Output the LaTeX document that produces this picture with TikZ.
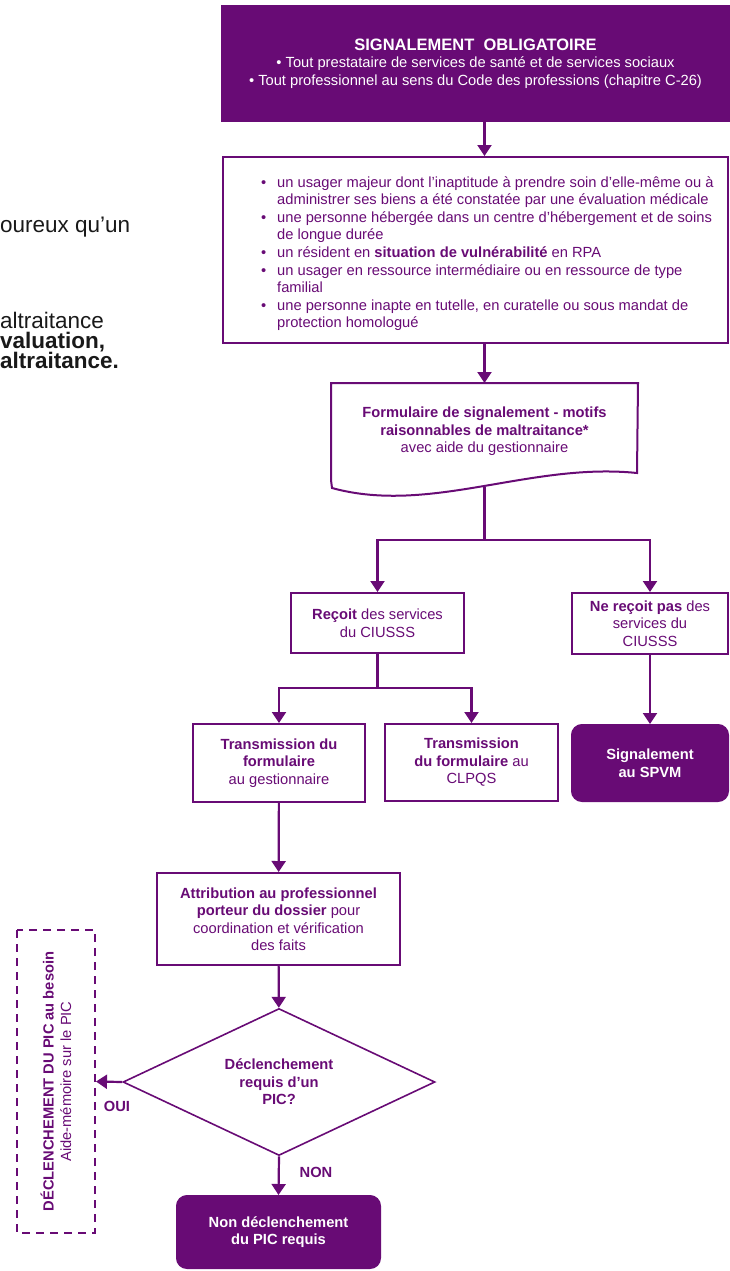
\documentclass[tikz,border=0pt]{standalone}
\usepackage{fontspec}
\setmainfont{Liberation Sans}
\usetikzlibrary{arrows.meta,shapes.geometric}
\definecolor{pur}{RGB}{104,11,117}
\newcommand{\bitem}{\makebox[16pt][l]{\textbullet}}
\newcommand{\bcont}{\hspace*{16pt}}
\begin{document}
\begin{tikzpicture}[x=1pt,y=-1pt,
    box/.style={rectangle,draw=pur,line width=2pt,text=pur,align=center,inner sep=0pt,font=\fontsize{14.7}{17.5}\selectfont},
    fillbox/.style={box,fill=pur,text=white,rounded corners=10pt},
    arr/.style={draw=pur,line width=2.2pt,-{Triangle[length=11pt,width=14pt]}},
    lab/.style={text=pur,font=\fontsize{14.7}{16}\selectfont\bfseries},
    side/.style={text=black!90,anchor=base west,inner sep=0pt,font=\fontsize{22.5}{20}\selectfont}]
    \useasboundingbox (0,0) rectangle (729,1271);

    % texte coupé à gauche
    \node[side] at (0,232) (s1) {oureux qu’un};
    \node[side] at (0,328) (s2) {altraitance};
    \node[side,font=\fontsize{22.5}{20}\selectfont\bfseries] at (0,348) (s3) {valuation,};
    \node[side,font=\fontsize{22.5}{20}\selectfont\bfseries] at (0,368) (s4) {altraitance.};

    \node[fillbox,rounded corners=0pt,minimum width=507pt,minimum height=115pt] at (475.5,63.5) (top)
        {{\fontsize{16.5}{19}\selectfont\bfseries SIGNALEMENT\ \ OBLIGATOIRE}\\
         \textbullet\ Tout prestataire de services de santé et de services sociaux\\
         \textbullet\ Tout professionnel au sens du Code des professions (chapitre C-26)};

    \node[box,minimum width=505pt,minimum height=186pt] at (475,250) (list) {};
    \node[text=pur,align=left,anchor=north west,inner sep=0pt,font=\fontsize{14.7}{17.6}\selectfont] at (261,176) (listtxt)
        {\bitem un usager majeur dont l’inaptitude à prendre soin d’elle-même ou à\\
         \bcont administrer ses biens a été constatée par une évaluation médicale\\
         \bitem une personne hébergée dans un centre d’hébergement et de soins\\
         \bcont de longue durée\\
         \bitem un résident en \textbf{situation de vulnérabilité} en RPA\\
         \bitem un usager en ressource intermédiaire ou en ressource de type\\
         \bcont familial\\
         \bitem une personne inapte en tutelle, en curatelle ou sous mandat de\\
         \bcont protection homologué};

    \node[box,draw=none,minimum width=305pt,minimum height=95pt] at (484.5,431.5) (form)
        {\textbf{Formulaire de signalement - motifs}\\
         \textbf{raisonnables de maltraitance*}\\
         avec aide du gestionnaire};
    \draw[pur,line width=2pt] (form.south west) -- (form.north west) -- (form.north east) -- (637,473)
        .. controls (530,462) and (430,515) .. (332,488) -- cycle;
    \coordinate (formbot) at (484.5,487);

    \node[box,minimum width=173pt,minimum height=60pt] at (377.5,623) (recoit)
        {\textbf{Reçoit} des services\\ du CIUSSS};
    \node[box,minimum width=156pt,minimum height=61pt] at (650,623.5) (nerecoit)
        {\textbf{Ne reçoit pas} des\\ services du\\ CIUSSS};
    \node[box,minimum width=172pt,minimum height=78pt] at (279,763) (trans1)
        {\textbf{Transmission du}\\ \textbf{formulaire}\\ au gestionnaire};
    \node[box,minimum width=173pt,minimum height=77pt] at (471.5,762.5) (trans2)
        {\textbf{Transmission}\\ \textbf{du formulaire} au\\ CLPQS};
    \node[fillbox,minimum width=156pt,minimum height=76pt] at (650,763) (spvm)
        {\textbf{Signalement}\\ \textbf{au SPVM}};
    \node[box,minimum width=243pt,minimum height=92pt] at (278.5,919) (attr)
        {\textbf{Attribution au professionnel}\\ \textbf{porteur du dossier} pour\\ coordination et vérification\\ des faits};
    \node[box,line width=1.6pt,shape=diamond,shape aspect=2.12,minimum width=312pt,minimum height=147pt] at (279,1082) (dia)
        {\textbf{Déclenchement}\\ \textbf{requis d’un}\\ \textbf{PIC?}};
    \node[box,dashed,dash pattern=on 8pt off 6pt,rotate=90,minimum width=303pt,minimum height=78pt] at (56,1081.5) (pic)
        {\textbf{DÉCLENCHEMENT DU PIC au besoin}\\ Aide-mémoire sur le PIC};
    \node[fillbox,minimum width=203pt,minimum height=72pt] at (278.5,1232) (nonde)
        {\textbf{Non déclenchement}\\ \textbf{du PIC requis}};
    \node[lab] at (117,1106) (oui) {OUI};
    \node[lab] at (316,1172) (non) {NON};

    \draw[arr] (top.south -| formbot) -- (list.north -| formbot);
    \draw[arr] (list.south -| formbot) -- (form.north -| formbot);
    \draw[pur,line width=2.2pt] (formbot) -- (484.5,540) coordinate (split);
    \draw[arr] (split) -| (recoit);
    \draw[arr] (split) -| (nerecoit);
    \draw[pur,line width=2.2pt] (recoit) -- (377.5,688) coordinate (split2);
    \draw[arr] (split2) -| (trans1);
    \draw[arr] (split2) -| (trans2);
    \draw[arr] (nerecoit) -- (spvm);
    \draw[arr] (trans1) -- (attr);
    \draw[arr] (attr) -- (dia);
    \draw[arr] (dia.west) -- (pic.south);
    \draw[arr] (dia.south) -- (nonde.north);
\end{tikzpicture}
\end{document}
